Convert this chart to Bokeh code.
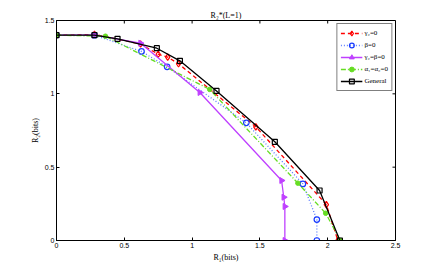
import math
from bokeh.plotting import figure
from bokeh.models import LinearAxis, Legend, LegendItem, Range1d, FixedTicker
from bokeh.embed import file_html
from bokeh.resources import INLINE

# Data
gamma_x = [0.0, 0.28, 0.62, 0.75, 0.82, 0.90, 1.47, 1.99, 2.075]
gamma_y = [1.40, 1.405, 1.34, 1.27, 1.25, 1.205, 0.775, 0.245, 0.0]

beta_x = [0.0, 0.28, 0.627, 0.816, 1.40, 1.817, 1.92, 1.92]
beta_y = [1.40, 1.40, 1.289, 1.184, 0.802, 0.386, 0.143, 0.0]

gb_x = [0.0, 0.28, 0.62, 1.057, 1.66, 1.676, 1.684, 1.684]
gb_y = [1.40, 1.40, 1.345, 1.009, 0.409, 0.295, 0.232, 0.0]

alpha_x = [0.0, 0.361, 1.13, 1.78, 1.985, 2.094]
alpha_y = [1.40, 1.393, 1.03, 0.391, 0.186, 0.0]

gen_x = [0.0, 0.28, 0.45, 0.74, 0.91, 1.18, 1.61, 1.94, 2.09]
gen_y = [1.40, 1.40, 1.375, 1.311, 1.225, 1.02, 0.673, 0.341, 0.0]

x_ticks = [0, 0.5, 1, 1.5, 2, 2.5]
y_ticks = [0, 0.5, 1, 1.5]

labels = ["\u03b3\u2082=0", "\u03b2=0", "\u03b3\u2082=\u03b2=0",
          "\u03b1\u2081=\u03b1\u2082=0", "General"]

serif = "Liberation Serif"
sans = "Liberation Sans"
X_MAX, Y_MAX = 2.5, 1.5

p = figure(width=420, height=264, output_backend="svg", toolbar_location=None,
           x_range=Range1d(0, X_MAX), y_range=Range1d(0, Y_MAX),
           min_border_left=56, min_border_right=25, min_border_top=20,
           min_border_bottom=24, x_axis_location=None, y_axis_location=None)
p.grid.visible = False
p.outline_line_color = "black"
p.outline_line_width = 1
p.background_fill_color = "white"
p.border_fill_color = "white"

p.title.text = "R\u2082*(L=1)"
p.title.text_font = serif
p.title.text_font_size = "8px"
p.title.text_font_style = "normal"
p.title.text_color = "black"
p.title.align = "center"
p.title.offset = 0
p.title.standoff = 2

def mk_axis(loc, ticks, label):
    ax = LinearAxis(ticker=FixedTicker(ticks=ticks))
    ax.major_tick_in = 3
    ax.major_tick_out = 0
    ax.minor_tick_in = 0
    ax.minor_tick_out = 0
    ax.axis_line_color = "black"
    ax.major_tick_line_color = "black"
    ax.major_label_text_font = sans
    ax.major_label_text_font_size = "7px"
    ax.major_label_text_color = "black"
    ax.major_label_standoff = 2
    ax.axis_label = label
    ax.axis_label_text_font = serif
    ax.axis_label_text_font_size = "8px"
    ax.axis_label_text_font_style = "normal"
    ax.axis_label_text_color = "black"
    ax.axis_label_standoff = 2
    p.add_layout(ax, loc)
    return ax

mk_axis("below", x_ticks, "R\u2081(bits)")
mk_axis("left", y_ticks, "R\u2082(bits)")

# inward ticks on the top and right edges of the box
p.ray(x=x_ticks, y=[Y_MAX] * len(x_ticks), length=3, length_units="screen",
      angle=-math.pi / 2, line_color="black", line_width=1)
p.ray(x=[X_MAX] * len(y_ticks), y=y_ticks, length=3, length_units="screen",
      angle=math.pi, line_color="black", line_width=1)

r1l = p.line(gamma_x, gamma_y, line_color="red", line_dash="4 3", line_width=1.3)
r1m = p.scatter(gamma_x, gamma_y, marker="diamond", size=6.5, line_color="red",
                fill_alpha=0, line_width=1.2)

r2l = p.line(beta_x, beta_y, line_color="#5a7cff", line_dash="1 2", line_width=1.3)
r2m = p.scatter(beta_x, beta_y, marker="circle", size=5.5, line_color="#1a3cff",
                fill_alpha=0, line_width=1.2)

r3l = p.line(gb_x, gb_y, line_color="#bf40ff", line_width=1.3)
r3m = p.scatter(gb_x, gb_y, marker="triangle", angle=-math.pi / 2, size=6,
                line_color="#bf40ff", fill_color="#bf40ff", line_width=1)

r4l = p.line(alpha_x, alpha_y, line_color="#66dd22", line_dash="5 2 1 2", line_width=1.3)
r4m = p.scatter(alpha_x, alpha_y, marker="circle", size=4.5, line_color="#66dd22",
                fill_color="#66dd22")

r5l = p.line(gen_x, gen_y, line_color="black", line_width=1.3)
r5m = p.scatter(gen_x, gen_y, marker="square", size=5, line_color="black",
                fill_alpha=0, line_width=1.2)

legend = Legend(items=[
    LegendItem(label=labels[0], renderers=[r1l, r1m]),
    LegendItem(label=labels[1], renderers=[r2l, r2m]),
    LegendItem(label=labels[2], renderers=[r3l, r3m]),
    LegendItem(label=labels[3], renderers=[r4l, r4m]),
    LegendItem(label=labels[4], renderers=[r5l, r5m]),
], location="top_right")
legend.label_text_font = serif
legend.label_text_font_size = "7px"
legend.label_text_color = "black"
legend.border_line_color = "black"
legend.border_line_width = 1
legend.margin = 3
legend.padding = 3
legend.spacing = 0
legend.glyph_width = 22
legend.glyph_height = 12
legend.label_height = 12
legend.label_standoff = 2
p.add_layout(legend)

open("out.html", "w").write(file_html(p, INLINE))
